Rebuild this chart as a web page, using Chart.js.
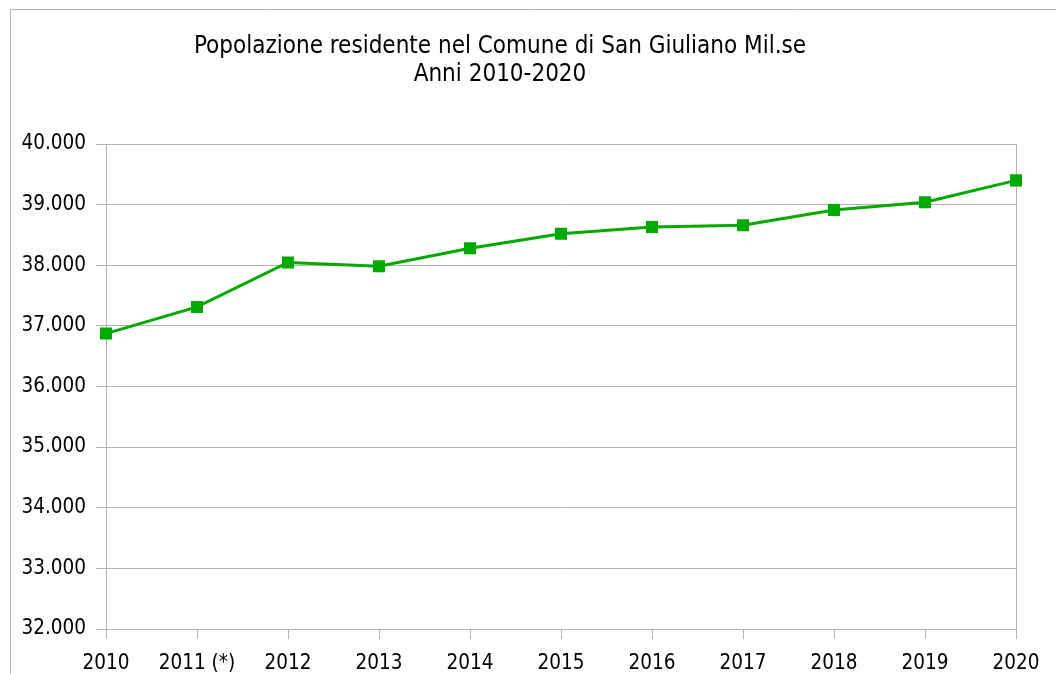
<!DOCTYPE html>
<html>
<head>
<meta charset="utf-8">
<script src="https://cdn.jsdelivr.net/npm/chart.js@4/dist/chart.umd.min.js"></script>
<style>
html,body{margin:0;padding:0;background:#fff;}
#wrap{width:1056px;height:674px;position:relative;}
</style>
</head>
<body>
<div id="wrap"><canvas id="c" width="1056" height="674"></canvas></div>
<script>
const categories = ["2010","2011 (*)","2012","2013","2014","2015","2016","2017","2018","2019","2020"];
const population = [36873,37313,38045,37985,38280,38520,38632,38660,38913,39040,39400];
const titleLines = ["Popolazione residente nel Comune di San Giuliano Mil.se","Anni 2010-2020"];
const yMin = 32000, yMax = 40000, yStep = 1000;

const FONT = "'DejaVu Sans Condensed','DejaVu Sans',sans-serif";
const GRID = '#b3b3b3';

function fmt(v){
  return String(Math.round(v)).replace(/\B(?=(\d{3})+(?!\d))/g,'.');
}

const framePlugin = {
  id:'frame',
  beforeDraw(chart){
    const c = chart.ctx;
    c.save();
    c.fillStyle='#fff';
    c.fillRect(0,0,chart.width,chart.height);
    c.strokeStyle=GRID;
    c.lineWidth=1;
    c.beginPath();
    c.moveTo(10.5,chart.height);
    c.lineTo(10.5,9.5);
    c.lineTo(chart.width,9.5);
    c.stroke();
    c.restore();
  },
  afterDraw(chart){
    const c = chart.ctx;
    c.save();
    c.fillStyle='#000';
    c.font = "24px " + FONT;
    c.textAlign='center';
    c.textBaseline='alphabetic';
    c.fillText(titleLines[0],500,53);
    c.fillText(titleLines[1],500,81);
    c.restore();
  }
};

new Chart(document.getElementById('c'),{
  type:'line',
  data:{
    labels:categories,
    datasets:[{
      data:population,
      borderColor:'#00aa00',
      backgroundColor:'#00aa00',
      borderWidth:3,
      pointStyle:'rect',
      pointRadius:8.5,
      pointHoverRadius:8.5,
      pointBorderWidth:0,
      tension:0,
      fill:false
    }]
  },
  plugins:[framePlugin],
  options:{
    responsive:false,
    animation:false,
    events:[],
    layout:{padding:{left:0,right:40,top:144,bottom:0}},
    plugins:{legend:{display:false},title:{display:false},tooltip:{enabled:false}},
    scales:{
      x:{
        offset:false,
        border:{display:true,color:GRID,width:1},
        grid:{
          display:true,
          drawOnChartArea:true,
          color:(ctx)=> ctx.index===categories.length-1 ? GRID : 'rgba(0,0,0,0)',
          tickColor:GRID,
          tickLength:10,
          lineWidth:1
        },
        ticks:{color:'#000',font:{family:FONT,size:20.5},padding:12,maxRotation:0,autoSkip:false},
        afterFit(s){ s.height = 45; }
      },
      y:{
        min:yMin,max:yMax,
        border:{display:true,color:GRID,width:1},
        grid:{color:GRID,tickColor:GRID,tickLength:10,lineWidth:1},
        ticks:{stepSize:yStep,color:'#000',font:{family:FONT,size:20.5},padding:10,callback:(v)=>fmt(v)},
        afterFit(s){ s.width = 106; }
      }
    }
  }
});
</script>
</body>
</html>
